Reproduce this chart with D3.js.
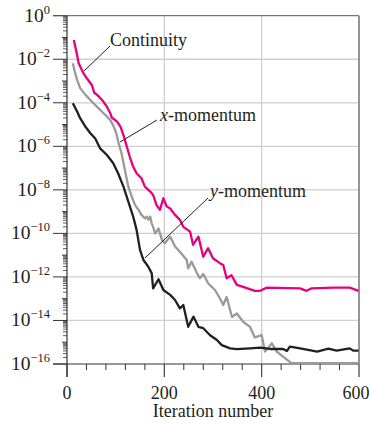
<!DOCTYPE html>
<html><head><meta charset="utf-8">
<script src="https://cdn.jsdelivr.net/npm/d3@7"></script>
<style>body{margin:0;background:#fff}svg{display:block}text{font-family:"Liberation Serif","Times New Roman",serif;fill:#231f20}</style>
</head><body><svg id="c" width="371" height="425"></svg>
<script>
const contIter = [14,20,24,32,41,51,56,62,72,82,89,92,103,110,116,123,129,136,143,153,160,171,177,184,191,198,205,212,222,232,239,253,259,270,280,290,300,314,321,328,338,349,362,386,397,410,479,492,503,547,581,599];
const contRes = [7.6e-2,1.9e-2,6.5e-3,2.7e-3,1.3e-3,6.6e-4,2.9e-4,2.3e-4,1.35e-4,6.6e-5,3.3e-5,2.1e-5,1.35e-5,7.9e-6,3.3e-6,9.5e-7,3.3e-7,1.15e-7,5.8e-8,3.4e-8,1.4e-8,8.3e-9,5.8e-9,2.0e-9,1.2e-9,4.1e-9,1.7e-9,1.4e-9,7.1e-10,4.2e-10,2.0e-10,1.2e-10,3.0e-11,7.1e-11,8.5e-12,2.1e-11,7.2e-12,4.3e-12,3.5e-12,8.7e-13,1.2e-12,4.3e-13,3.5e-13,2.3e-13,2.3e-13,3.2e-13,3.0e-13,2.3e-13,3.0e-13,3.2e-13,3.2e-13,2.3e-13];
const xmIter = [12,16,21,27,38,48,58,68,79,89,96,101,105,112,119,126,133,140,147,153,160,164,167,171,174,177,181,184,188,195,201,212,222,235,246,249,256,267,273,280,290,304,314,321,328,339,349,362,376,386,400,407,421,431,461,600];
const xmRes = [6.5e-3,2.7e-3,1.1e-3,4.7e-4,2.3e-4,1.35e-4,7.9e-5,4.7e-5,2.75e-5,1.6e-5,7.9e-6,4.2e-6,1.7e-6,4.8e-7,8.1e-8,1.4e-8,4.9e-9,2.0e-9,1.2e-9,7.1e-10,4.9e-10,5.9e-10,4.2e-10,5.9e-10,2.9e-10,2.0e-10,1.0e-10,1.2e-10,1.7e-10,5.0e-11,3.5e-11,7.1e-11,2.5e-11,1.2e-11,6.0e-12,2.5e-12,5.0e-12,1.5e-12,8.7e-13,1.35e-12,5.1e-13,2.5e-13,1.05e-13,5.1e-14,1.2e-13,1.45e-14,2.1e-14,8.7e-15,5.1e-15,1.66e-15,2.1e-15,3.7e-16,8.9e-16,3.7e-16,1.1e-16,1.1e-16];
const ymIter = [12,21,27,38,48,58,68,82,95,105,116,126,136,143,150,157,167,174,177,188,198,212,222,232,239,249,260,270,280,294,308,318,335,349,376,397,417,444,452,458,479,514,537,554,581,588,599];
const ymRes = [9.5e-5,3.9e-5,1.95e-5,7.9e-6,4.0e-6,2.3e-6,8.1e-7,4.0e-7,1.66e-7,5.8e-8,1.4e-8,2.9e-9,5.9e-10,1.45e-10,1.74e-11,6.0e-12,2.95e-12,1.5e-12,3.0e-13,7.8e-13,2.5e-13,1.5e-13,8.7e-14,3.6e-14,5.1e-14,5.1e-15,1.5e-14,5.1e-15,4.4e-15,2.1e-15,1.26e-15,7.4e-16,5.2e-16,4.8e-16,5.2e-16,5.6e-16,4.9e-16,4.9e-16,4.0e-16,6.3e-16,5.2e-16,3.7e-16,5.1e-16,4.1e-16,5.2e-16,4.1e-16,4.1e-16];
const xTickLabels = [0,200,400,600];
const yTickExps = [0,-2,-4,-6,-8,-10,-12,-14,-16];
const seriesNames = ["Continuity","x-momentum","y-momentum"];

const svg = d3.select("#c");
const x = d3.scaleLinear().domain([0,600]).range([67,359]);
const y = d3.scaleLog().domain([1e-16,1]).range([364,15.7]);

// grid
const g = svg.append("g");
g.selectAll(".hg").data(yTickExps.filter(e=>e<0&&e>-16)).join("line")
  .attr("x1",x(0)).attr("x2",x(600)).attr("y1",e=>y(Math.pow(10,e))).attr("y2",e=>y(Math.pow(10,e)))
  .attr("stroke","#cfcfcf").attr("stroke-width",1.3);
g.selectAll(".vg").data([200,400]).join("line")
  .attr("x1",d=>x(d)).attr("x2",d=>x(d)).attr("y1",y(1)).attr("y2",y(1e-16)+13)
  .attr("stroke","#cfcfcf").attr("stroke-width",1.3);

// y minor ticks
const minors=[];
for(let e=-16;e<0;e++){for(let m=2;m<=9;m++)minors.push(m*Math.pow(10,e));}
g.selectAll(".mt").data(minors).join("line")
  .attr("x1",x(0)-4).attr("x2",x(0)).attr("y1",d=>y(d)).attr("y2",d=>y(d))
  .attr("stroke","#333").attr("stroke-width",0.8);
const decs=d3.range(-16,1);
g.selectAll(".dt").data(decs).join("line")
  .attr("x1",e=>yTickExps.includes(e)?x(0)-14:x(0)-5).attr("x2",x(0)).attr("y1",e=>y(Math.pow(10,e))).attr("y2",e=>y(Math.pow(10,e)))
  .attr("stroke","#333").attr("stroke-width",1);

// x ticks
g.selectAll(".xt").data(d3.range(0,601,40)).join("line")
  .attr("x1",d=>x(d)).attr("x2",d=>x(d)).attr("y1",y(1e-16)).attr("y2",d=>xTickLabels.includes(d)?y(1e-16)+13:y(1e-16)+6)
  .attr("stroke","#333").attr("stroke-width",1);

// frame
g.append("line").attr("x1",x(0)-14).attr("x2",x(600)).attr("y1",y(1)).attr("y2",y(1)).attr("stroke","#555").attr("stroke-width",1);
g.append("line").attr("x1",x(600)).attr("x2",x(600)).attr("y1",y(1)).attr("y2",y(1e-16)+13).attr("stroke","#8a8a8a").attr("stroke-width",1.8);
g.append("line").attr("x1",x(0)).attr("x2",x(0)).attr("y1",y(1)).attr("y2",y(1e-16)+13).attr("stroke","#333").attr("stroke-width",1.2);
g.append("line").attr("x1",x(0)-14).attr("x2",x(600)).attr("y1",y(1e-16)).attr("y2",y(1e-16)).attr("stroke","#333").attr("stroke-width",1.2);

// y labels
const yl = svg.append("g").selectAll("text").data(yTickExps).join("text")
  .attr("x",50).attr("y",e=>y(Math.pow(10,e))+6).attr("text-anchor","end").style("font-size","19.5px");
yl.append("tspan").text("10");
yl.append("tspan").attr("dy",-8).style("font-size","12.5px").text(e=>e===0?"0":"\u2212"+(-e));

// x labels
svg.append("g").selectAll("text").data(xTickLabels).join("text")
  .attr("x",d=>x(d)-(d===600?3:0)).attr("y",399).attr("text-anchor","middle").style("font-size","18px").text(d=>d);
svg.append("text").attr("x",x(300)).attr("y",417).attr("text-anchor","middle").style("font-size","18px").text("Iteration number");

// lines
const line = d3.line().x(d=>x(d[0])).y(d=>y(d[1]));
const series = [
  {it:xmIter,v:xmRes,c:"#9a9a9a"},
  {it:ymIter,v:ymRes,c:"#231f20"},
  {it:contIter,v:contRes,c:"#e6007e"}
];
series.forEach(s=>{
  svg.append("path").datum(d3.zip(s.it,s.v)).attr("d",line).attr("fill","none")
    .attr("stroke",s.c).attr("stroke-width",2.3).attr("stroke-linejoin","round");
});

// annotations
const ann = svg.append("g");
ann.append("line").attr("x1",84).attr("y1",71).attr("x2",110).attr("y2",46).attr("stroke","#231f20").attr("stroke-width",1);
ann.append("line").attr("x1",120).attr("y1",142).attr("x2",157).attr("y2",120).attr("stroke","#231f20").attr("stroke-width",1);
ann.append("line").attr("x1",145).attr("y1",258).attr("x2",208).attr("y2",198).attr("stroke","#231f20").attr("stroke-width",1);
ann.append("text").attr("x",110).attr("y",46).style("font-size","18px").text(seriesNames[0]);
const t2 = ann.append("text").attr("x",160).attr("y",121).style("font-size","18px");
t2.append("tspan").style("font-style","italic").text("x");
t2.append("tspan").text("-momentum");
const t3 = ann.append("text").attr("x",210).attr("y",197).style("font-size","18px");
t3.append("tspan").style("font-style","italic").text("y");
t3.append("tspan").text("-momentum");
</script></body></html>
